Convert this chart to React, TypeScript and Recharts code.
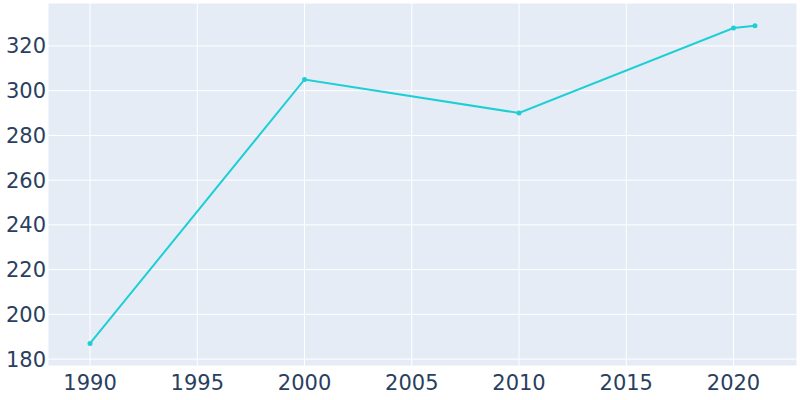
import { LineChart, Line, XAxis, YAxis, CartesianGrid } from "recharts";

// Population by year
const years = [1990, 2000, 2010, 2020, 2021];
const population = [187, 305, 290, 328, 329];

const xTicks = [1990, 1995, 2000, 2005, 2010, 2015, 2020];
const yTicks = [180, 200, 220, 240, 260, 280, 300, 320];

const data = years.map((year, i) => ({ year, value: population[i] }));

const LINE_COLOR = "#1dcfd4";
const TEXT_COLOR = "#2a3f5f";

export default function App() {
  return (
    <div style={{ position: "absolute", top: 0, left: 0, width: 800, height: 400, background: "#fff" }}>
      <LineChart
        width={800}
        height={400}
        data={data}
        margin={{ top: 3, right: 3, left: 0, bottom: 0 }}
      >
        <CartesianGrid fill="#e5ecf6" stroke="#ffffff" strokeWidth={1} />
        <XAxis
          dataKey="year"
          type="number"
          domain={[1988.04, 2022.96]}
          ticks={xTicks}
          allowDataOverflow
          axisLine={false}
          tickLine={false}
          tickSize={0}
          tickMargin={9}
          height={34}
          tick={{ fill: TEXT_COLOR, fontSize: 21, fontFamily: "DejaVu Sans" }}
        />
        <YAxis
          type="number"
          domain={[176.9, 339.2]}
          ticks={yTicks}
          allowDataOverflow
          axisLine={false}
          tickLine={false}
          tickSize={0}
          tickMargin={2}
          width={48}
          tick={{ fill: TEXT_COLOR, fontSize: 21, fontFamily: "DejaVu Sans" }}
        />
        <Line
          dataKey="value"
          stroke={LINE_COLOR}
          strokeWidth={2}
          dot={{ r: 2.5, fill: LINE_COLOR, stroke: LINE_COLOR, strokeWidth: 0 }}
          activeDot={false}
          isAnimationActive={false}
        />
      </LineChart>
    </div>
  );
}
